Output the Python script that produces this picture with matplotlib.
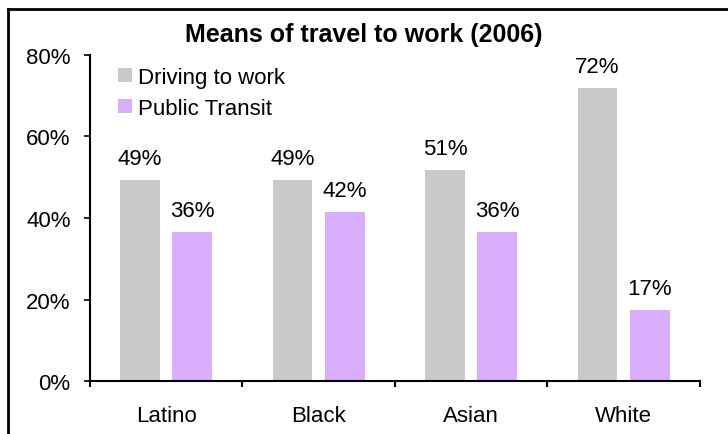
import numpy as np
import matplotlib.pyplot as plt
from matplotlib.patches import Patch
from matplotlib.lines import Line2D

groups = ['Latino', 'Black', 'Asian', 'White']
driving = [49.3, 49.3, 51.7, 71.7]
transit = [36.5, 41.4, 36.5, 17.5]
driving_labels = ['49%', '49%', '51%', '72%']
transit_labels = ['36%', '42%', '36%', '17%']

gray = '#c9c9c9'
purple = '#d8aefd'

plt.rcParams['font.family'] = ['Liberation Sans', 'DejaVu Sans']

fig = plt.figure(figsize=(7.28, 4.35), dpi=100)
ax = fig.add_axes([0.1236, 0.1207, 0.8379, 0.7517])

x = np.arange(len(groups))
w = 0.262
b1 = ax.bar(x - 0.172, driving, w, color=gray)
b2 = ax.bar(x + 0.17, transit, w, color=purple)

for bars, labels in ((b1, driving_labels), (b2, transit_labels)):
    for r, lab in zip(bars, labels):
        ax.annotate(lab, (r.get_x() + r.get_width() / 2, r.get_height()),
                    xytext=(0, 11.5), textcoords='offset points',
                    ha='center', va='baseline', fontsize=16)

ax.set_xlim(-0.5, 3.5)
ax.set_ylim(0, 80)
ax.set_yticks([0, 20, 40, 60, 80])
ax.set_yticklabels(['0%', '20%', '40%', '60%', '80%'], fontsize=16)
ax.set_xticks(x)
ax.set_xticklabels(groups, fontsize=16)
ax.set_xticks([-0.5, 0.5, 1.5, 2.5, 3.5], minor=True)
ax.tick_params(axis='x', which='major', length=0, pad=17)
ax.tick_params(axis='x', which='minor', length=4, width=1.5, direction='out')
ax.tick_params(axis='y', length=4, width=1.2, pad=10)

for s in ('top', 'right'):
    ax.spines[s].set_visible(False)
for s in ('left', 'bottom'):
    ax.spines[s].set_linewidth(1.5)

handles = [Patch(facecolor=gray), Patch(facecolor=purple)]
ax.legend(handles, ['Driving to work', 'Public Transit'], loc='upper left',
          bbox_to_anchor=(0.02, 1.01), frameon=False, fontsize=16,
          handlelength=0.65, handleheight=0.65, handletextpad=0.28,
          labelspacing=0.45, borderaxespad=0.3)

fig.text(0.5, 0.919, 'Means of travel to work (2006)', ha='center', va='center',
         fontsize=18, fontweight='bold')

# outer frame: top and left edges only are visible
fig.add_artist(Line2D([0.011, 1.0], [0.977, 0.977], color='black', lw=2))
fig.add_artist(Line2D([0.011, 0.011], [0.0, 0.977], color='black', lw=2))

fig.savefig('out.png', dpi=100)
